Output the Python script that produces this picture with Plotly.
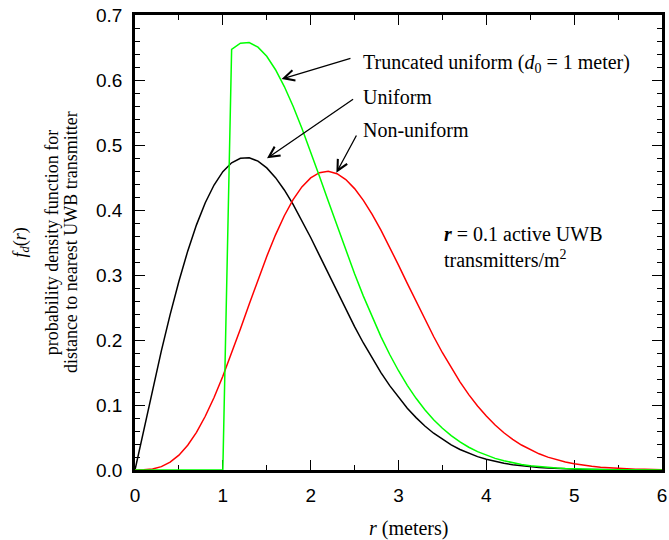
import plotly.graph_objects as go

# distance r (meters), sampled every 0.1 m
r_m = [round(0.1 * i, 1) for i in range(61)]

# probability density of distance to nearest transmitter
uniform = [
    0.0000, 0.0626, 0.1241, 0.1832, 0.2390, 0.2904, 0.3367, 0.3771, 0.4111, 0.4384,
    0.4589, 0.4726, 0.4796, 0.4803, 0.4752, 0.4648, 0.4498, 0.4308, 0.4087, 0.3841,
    0.3577, 0.3301, 0.3022, 0.2743, 0.2469, 0.2205, 0.1954, 0.1718, 0.1499, 0.1298,
    0.1115, 0.0951, 0.0806, 0.0677, 0.0566, 0.0469, 0.0386, 0.0315, 0.0256, 0.0206,
    0.0165, 0.0131, 0.0103, 0.0081, 0.0063, 0.0049, 0.0037, 0.0029, 0.0022, 0.0016,
    0.0012, 0.0009, 0.0007, 0.0005, 0.0004, 0.0003, 0.0002, 0.0001, 0.0001, 0.0001,
    0.0000,
]

non_uniform = [
    0.0000, 0.0002, 0.0016, 0.0052, 0.0120, 0.0228, 0.0381, 0.0580, 0.0827, 0.1116,
    0.1442, 0.1796, 0.2170, 0.2550, 0.2926, 0.3286, 0.3618, 0.3912, 0.4160, 0.4356,
    0.4494, 0.4574, 0.4595, 0.4558, 0.4468, 0.4329, 0.4149, 0.3934, 0.3691, 0.3428,
    0.3153, 0.2872, 0.2592, 0.2318, 0.2054, 0.1804, 0.1570, 0.1356, 0.1160, 0.0985,
    0.0829, 0.0692, 0.0573, 0.0471, 0.0384, 0.0311, 0.0249, 0.0198, 0.0157, 0.0123,
    0.0096, 0.0074, 0.0057, 0.0043, 0.0033, 0.0025, 0.0018, 0.0013, 0.0010, 0.0007,
    0.0005,
]

truncated = [
    0.0000, 0.0000, 0.0000, 0.0000, 0.0000, 0.0000, 0.0000, 0.0000, 0.0000, 0.0000,
    0.0000, 0.6470, 0.6566, 0.6576, 0.6506, 0.6364, 0.6158, 0.5899, 0.5595, 0.5258,
    0.4897, 0.4520, 0.4137, 0.3755, 0.3380, 0.3019, 0.2675, 0.2352, 0.2052, 0.1777,
    0.1527, 0.1303, 0.1103, 0.0928, 0.0774, 0.0642, 0.0528, 0.0432, 0.0350, 0.0282,
    0.0226, 0.0179, 0.0142, 0.0111, 0.0086, 0.0067, 0.0051, 0.0039, 0.0030, 0.0022,
    0.0017, 0.0012, 0.0009, 0.0007, 0.0005, 0.0004, 0.0003, 0.0002, 0.0001, 0.0001,
    0.0001,
]

x_ticks = [0, 1, 2, 3, 4, 5, 6]
y_ticks = [0.0, 0.1, 0.2, 0.3, 0.4, 0.5, 0.6, 0.7]

SERIF = "Liberation Serif, Times New Roman, serif"
SANS = "Liberation Sans, Arial, sans-serif"

fig = go.Figure()
fig.add_trace(go.Scatter(x=r_m, y=uniform, mode="lines", name="Uniform",
                         line=dict(color="#000000", width=1.5)))
fig.add_trace(go.Scatter(x=r_m, y=non_uniform, mode="lines", name="Non-uniform",
                         line=dict(color="#ff0000", width=1.5)))
fig.add_trace(go.Scatter(x=r_m, y=truncated, mode="lines", name="Truncated uniform",
                         line=dict(color="#00ff00", width=1.5)))

axis_common = dict(
    showline=True, linecolor="black", linewidth=2.5, mirror="ticks",
    ticks="inside", ticklen=10, tickwidth=1.2, tickcolor="black",
    showgrid=False, zeroline=False, layer="below traces",
    tickfont=dict(family=SANS, size=19, color="black"),
    ticklabeloverflow="allow",
)

fig.update_xaxes(range=[0, 6], tickvals=x_ticks, ticktext=[str(v) for v in x_ticks],
                 minor=dict(ticks="inside", ticklen=5, tickwidth=1.2, tickcolor="black", dtick=0.5),
                 ticklabelstandoff=6, **axis_common)
fig.update_yaxes(range=[0, 0.7], tickvals=y_ticks, ticktext=[f"{v:.1f}" for v in y_ticks],
                 minor=dict(ticks="inside", ticklen=5, tickwidth=1.2, tickcolor="black", dtick=0.02),
                 ticklabelstandoff=6, **axis_common)

ann = []
# curve labels with arrows
ann.append(dict(x=2.571, y=0.626, xref="x", yref="y", xanchor="left", yanchor="middle",
                text="Truncated uniform (<i>d</i><sub>0</sub> = 1 meter)", showarrow=False))
ann.append(dict(x=2.571, y=0.574, xref="x", yref="y", xanchor="left", yanchor="middle",
                text="Uniform", showarrow=False))
ann.append(dict(x=2.571, y=0.523, xref="x", yref="y", xanchor="left", yanchor="middle",
                text="Non-uniform", showarrow=False))
arrow_style = dict(xref="x", yref="y", axref="x", ayref="y", text="", showarrow=True,
                   arrowhead=5, arrowsize=1.6, arrowwidth=1.3, arrowcolor="black")
ann.append(dict(x=1.669, y=0.6015, ax=2.47, ay=0.634, **arrow_style))
ann.append(dict(x=1.503, y=0.4795, ax=2.50, ay=0.572, **arrow_style))
ann.append(dict(x=2.293, y=0.4574, ax=2.53, ay=0.517, **arrow_style))
# density note
ann.append(dict(x=3.496, y=0.343, xref="x", yref="y", xanchor="left", yanchor="middle",
                align="left",
                text="<b><i>r</i></b> = 0.1 active UWB<br>transmitters/m<sup>2</sup>",
                showarrow=False))
# y-axis title, three rotated lines
for px, txt in [(20, "<i>f<sub>d</sub></i>(<i>r</i>)"),
                (51, "probability density function for"),
                (70, "distance to nearest UWB transmitter")]:
    ann.append(dict(x=(px - 135) / 532, y=0.5, xref="paper", yref="paper",
                    xanchor="center", yanchor="middle", textangle=-90,
                    text=txt, showarrow=False, font=dict(family=SERIF, size=18, color="black")))
# x-axis title
ann.append(dict(x=(411 - 135) / 532, y=(470 - 528) / 455, xref="paper", yref="paper",
                xanchor="center", yanchor="middle", text="<i>r</i> (meters)",
                showarrow=False, font=dict(family=SERIF, size=20, color="black")))

fig.update_layout(
    width=669, height=540,
    margin=dict(l=135, r=2, t=15, b=70),
    paper_bgcolor="white", plot_bgcolor="white",
    showlegend=False,
    font=dict(family=SERIF, size=20, color="black"),
    annotations=ann,
)

fig.write_html("out.html")
